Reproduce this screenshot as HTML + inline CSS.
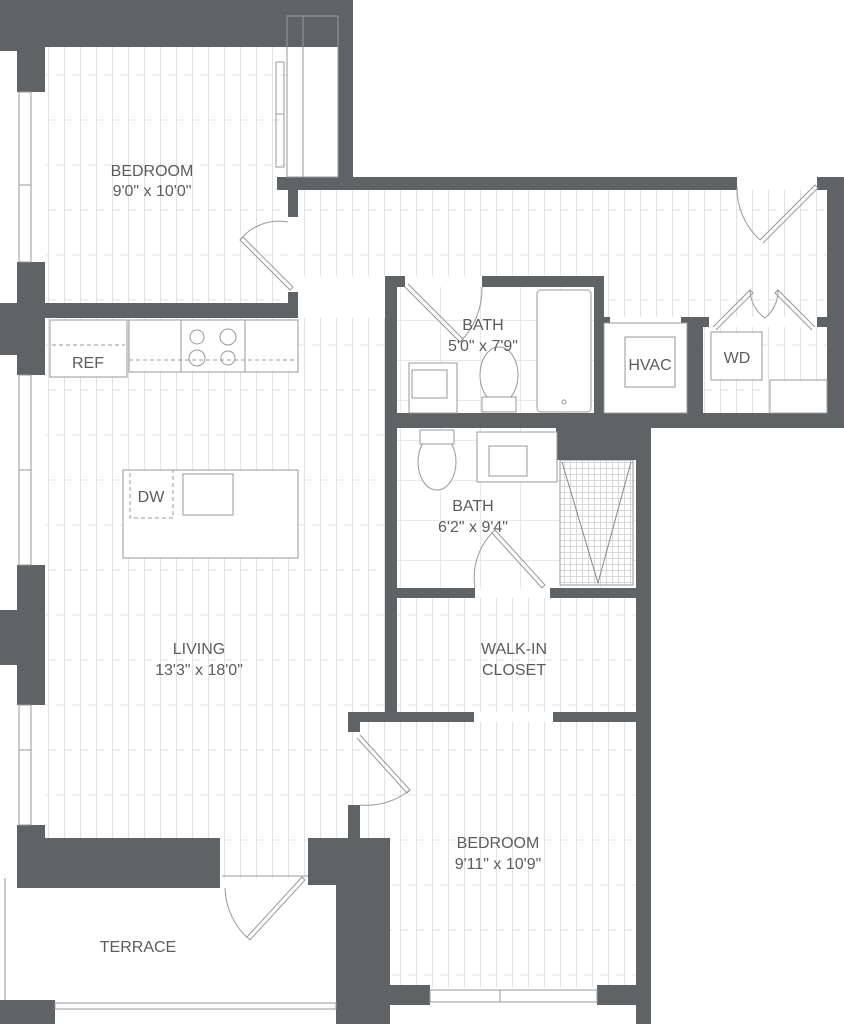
<!DOCTYPE html>
<html><head><meta charset="utf-8"><style>
html,body{margin:0;padding:0;background:#fff}
svg{display:block}
text{font-family:"Liberation Sans",sans-serif;fill:#5a5d60;font-size:16px;text-anchor:middle}
.w{fill:#5f6366}
.fl{fill:none;stroke:#999;stroke-width:1}
</style></head><body>
<svg width="844" height="1024" viewBox="0 0 844 1024" xmlns="http://www.w3.org/2000/svg">
<defs>
<pattern id="fl" width="16" height="90" patternUnits="userSpaceOnUse">
<rect width="16" height="90" fill="#fff"/>
<line x1="0.5" y1="0" x2="0.5" y2="90" stroke="#e2e2e2"/>
<line x1="0" y1="30" x2="8" y2="30" stroke="#e2e2e2"/>
<line x1="8" y1="75" x2="16" y2="75" stroke="#e2e2e2"/>
</pattern>
<pattern id="tile" width="40" height="40" patternUnits="userSpaceOnUse">
<rect width="40" height="40" fill="#fff"/>
<path d="M0 .5H40M.5 0V40" stroke="#e8e8e8"/>
</pattern>
<pattern id="sh" width="6" height="6" patternUnits="userSpaceOnUse">
<rect width="6" height="6" fill="#fff"/>
<path d="M0 .5H6M.5 0V6" stroke="#d8d8d8"/>
</pattern>
</defs>

<rect x="45" y="47" width="243" height="256" fill="url(#fl)"/>
<rect x="45" y="318" width="340" height="520" fill="url(#fl)"/>
<rect x="298" y="190" width="529" height="86" fill="url(#fl)"/>
<rect x="604" y="276" width="223" height="41" fill="url(#fl)"/>
<rect x="703" y="327" width="124" height="86" fill="url(#fl)"/>
<rect x="220" y="838" width="90" height="40" fill="url(#fl)"/>
<rect x="360" y="722" width="276" height="265" fill="url(#fl)"/>
<rect x="397" y="598" width="239" height="114" fill="url(#fl)"/>
<rect x="397" y="287" width="197" height="126" fill="url(#tile)"/>
<rect x="397" y="428" width="239" height="160" fill="url(#tile)"/>
<rect x="560" y="460" width="73" height="125" fill="url(#sh)" stroke="#999"/>
<polyline points="562,462 598,583 631,462" fill="none" stroke="#888"/>

<g class="w">
<rect x="0" y="0" width="353" height="47"/>
<rect x="0" y="0" width="17" height="51"/>
<rect x="17" y="47" width="28" height="45"/>
<rect x="17" y="262" width="28" height="41"/>
<rect x="0" y="303" width="298" height="15"/>
<rect x="0" y="318" width="45" height="37"/>
<rect x="17" y="355" width="28" height="20"/>
<rect x="17" y="565" width="28" height="140"/>
<rect x="0" y="610" width="45" height="55"/>
<rect x="17" y="825" width="28" height="63"/>
<rect x="17" y="838" width="203" height="50"/>
<rect x="0" y="1000" width="55" height="24"/>
<rect x="338" y="0" width="15" height="190"/>
<rect x="277" y="177" width="460" height="13"/>
<rect x="288" y="177" width="10" height="40"/>
<rect x="288" y="292" width="10" height="26"/>
<rect x="817" y="177" width="27" height="13"/>
<rect x="827" y="177" width="17" height="251"/>
<rect x="817" y="317" width="10" height="10"/>
<rect x="385" y="276" width="20" height="11"/>
<rect x="482" y="276" width="122" height="11"/>
<rect x="385" y="276" width="12" height="446"/>
<rect x="594" y="276" width="10" height="152"/>
<rect x="604" y="317" width="6" height="6"/>
<rect x="681" y="317" width="6" height="6"/>
<rect x="687" y="317" width="16" height="111"/>
<rect x="703" y="317" width="6" height="10"/>
<rect x="385" y="413" width="459" height="15"/>
<rect x="556" y="428" width="80" height="32"/>
<rect x="636" y="413" width="15" height="611"/>
<rect x="385" y="588" width="90" height="10"/>
<rect x="550" y="588" width="86" height="10"/>
<rect x="350" y="712" width="124" height="10"/>
<rect x="553" y="712" width="83" height="10"/>
<rect x="348" y="712" width="12" height="20"/>
<rect x="348" y="805" width="12" height="219"/>
<rect x="308" y="838" width="52" height="47"/>
<rect x="336" y="838" width="54" height="186"/>
<rect x="360" y="985" width="70" height="20"/>
<rect x="597" y="985" width="39" height="20"/>
</g>

<g class="fl">
<rect x="19" y="92" width="12" height="170"/><line x1="19" y1="185" x2="31" y2="185"/>
<rect x="19" y="375" width="12" height="190"/><line x1="19" y1="470" x2="31" y2="470"/>
<rect x="19" y="705" width="12" height="120"/><line x1="19" y1="750" x2="31" y2="750"/>
<rect x="287" y="16" width="51" height="161"/><line x1="303" y1="16" x2="303" y2="177"/>
<rect x="276" y="62" width="8" height="105"/><line x1="276" y1="114" x2="284" y2="114"/>
<rect x="430" y="990" width="167" height="12"/><line x1="500" y1="990" x2="500" y2="1002"/>
<line x1="5" y1="878" x2="5" y2="1000"/>
<rect x="55" y="1003" width="281" height="6"/>
<path d="M288 222 A50 50 0 0 0 240 240"/>
<path d="M240 240 L290 290 L293 287 L243 237Z"/>
<path d="M405 287 L460 342 L463 339 L408 284"/>
<path d="M482 287 A75 75 0 0 1 460 342"/>
<path d="M760 240 L815 185 L818 188 L763 243"/>
<path d="M737 187 A70 70 0 0 0 760 240"/>
<path d="M713 327 L750 290 L753 293 L716 330"/>
<path d="M815 327 L778 290 L775 293 L812 330"/>
<path d="M765 318 A35 35 0 0 1 750 290"/>
<path d="M765 318 A35 35 0 0 0 778 290"/>
<path d="M475 588 A65 65 0 0 1 495 530 L545 585 L542 588 L492 533"/>
<path d="M360 735 L410 790 L407 793 L357 738"/>
<path d="M360 805 A70 70 0 0 0 410 790"/>
<path d="M250 940 L305 880 L302 877 L247 937"/>
<path d="M225 888 A70 70 0 0 0 250 940"/>
<line x1="222" y1="876" x2="308" y2="876"/>
</g>

<g fill="#fff" stroke="#999">
<rect x="129" y="320" width="169" height="52"/>
<line x1="181" y1="320" x2="181" y2="372"/>
<line x1="245" y1="320" x2="245" y2="372"/>
<circle cx="197" cy="337" r="7"/><circle cx="228" cy="337" r="8"/>
<circle cx="197" cy="358" r="8"/><circle cx="228" cy="358" r="7"/>
<rect x="50" y="320" width="77" height="57"/>
<rect x="123" y="470" width="175" height="88"/>
<rect x="183" y="474" width="50" height="41"/>
<rect x="409" y="363" width="48" height="50"/>
<rect x="412" y="370" width="35" height="28"/>
<rect x="537" y="290" width="54" height="122" rx="4"/>
<circle cx="564" cy="402" r="2"/>
<ellipse cx="499" cy="375" rx="19" ry="28"/>
<rect x="482" y="397" width="34" height="15"/>
<ellipse cx="437" cy="462" rx="19" ry="28"/>
<rect x="420" y="430" width="34" height="14"/>
<rect x="477" y="432" width="80" height="50"/>
<rect x="489" y="446" width="38" height="30"/>
<rect x="604" y="323" width="83" height="90"/>
<rect x="625" y="337" width="50" height="50"/>
<rect x="711" y="332" width="51" height="48"/>
<rect x="770" y="380" width="57" height="33"/>
</g>
<g fill="none" stroke="#999" stroke-dasharray="4,3">
<line x1="52" y1="345" x2="125" y2="345"/>
<line x1="129" y1="360" x2="298" y2="360"/>
<rect x="130" y="470" width="43" height="48"/>
</g>

<text x="152" y="176">BEDROOM</text><text x="152" y="196">9'0" x 10'0"</text>
<text x="88" y="368">REF</text>
<text x="151" y="502">DW</text>
<text x="483" y="330">BATH</text><text x="483" y="351">5'0" x 7'9"</text>
<text x="650" y="370">HVAC</text>
<text x="737" y="363">WD</text>
<text x="473" y="511">BATH</text><text x="473" y="532">6'2" x 9'4"</text>
<text x="199" y="654">LIVING</text><text x="199" y="675">13'3" x 18'0"</text>
<text x="514" y="654">WALK-IN</text><text x="514" y="675">CLOSET</text>
<text x="498" y="848">BEDROOM</text><text x="498" y="869">9'11" x 10'9"</text>
<text x="138" y="952">TERRACE</text>
</svg>
</body></html>
